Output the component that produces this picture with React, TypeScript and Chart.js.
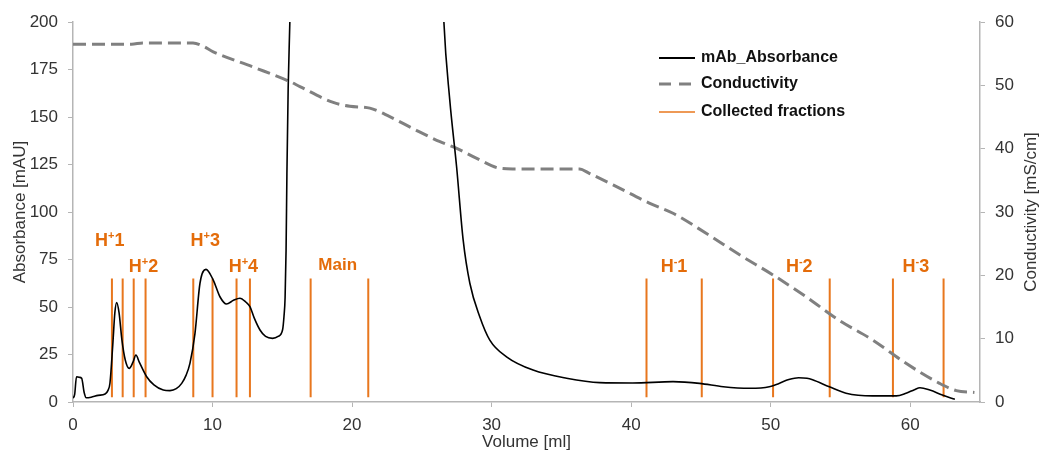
import React, { useEffect, useRef } from 'react';
import { Chart, registerables } from 'chart.js';

Chart.register(...registerables);

// ---- Data ----
const absVolume = [
  0.0, 0.12, 0.25, 0.45, 0.62, 0.8, 0.95, 1.3, 1.8, 2.3, 2.5, 2.65, 2.85, 3.0, 3.13, 3.3, 3.5, 3.75, 4.03,
  4.3, 4.51, 4.75, 5.28, 5.8, 6.47, 6.95, 7.4, 7.79, 8.1, 8.38, 8.74, 9.1, 9.53, 10.05, 10.53, 11.0, 11.5,
  11.96, 12.4, 12.68, 13.0, 13.4, 13.8, 14.3, 14.7, 15.02, 15.12, 15.2, 15.27, 15.33, 15.42, 15.54, 15.7,
  16.5, 21.0, 25.5, 26.3, 26.58, 27.0, 27.49, 27.96, 28.44, 29.15, 29.87, 31.07, 32.97, 35.37, 37.75, 40.1,
  43.0, 44.9, 46.6, 48.5, 49.9, 50.6, 51.3, 52.0, 52.6, 53.0, 54.2, 55.4, 57.3, 59.0, 59.7, 60.3, 60.7,
  61.4, 62.3, 63.2,
];
const absValue = [
  2, 4, 13.3, 13, 12.5, 5, 2.2, 2.5, 3.5, 4.2, 6, 10, 30, 47, 52.3, 47, 33, 22, 17.7,
  21, 24.7, 21, 13.3, 9, 6.3, 6, 7, 9.8, 14, 20.3, 36, 62.5, 69.8, 64.2, 55.4, 51.6, 53.5,
  54.6, 52.5, 50.2, 44, 37.9, 34.5, 33.5, 34.5, 38, 45, 55, 80, 120, 165, 200, 260,
  500, 1000, 500, 260, 200, 159, 123.8, 85.3, 62.5, 44.9, 32.6, 23.8, 16.8, 12.5, 10.2, 10,
  10.7, 9.8, 8, 7.2, 8, 9.8, 11.8, 12.8, 12.5, 11.7, 8, 4.6, 3.2, 3.2, 4.6, 6.5, 7.5,
  6.3, 3.7, 1.4,
];

const condVolume = [
  0, 4.2, 5.0, 8.6, 9.3, 10.05, 12.9, 15.54, 16.26, 18.65, 19.84, 21.27, 22.7, 24.6, 26.3, 27.5, 28.9,
  30.6, 31.5, 36.3, 37.0, 38.95, 41.3, 43.0, 45.4, 47.8, 50.17, 52.55, 54.9, 57.3, 59.7, 62.1, 63.3, 64.6,
];
const condValue = [
  56.5, 56.5, 56.7, 56.7, 56.2, 55.3, 52.9, 50.6, 49.8, 47.3, 46.7, 46.4, 45.05, 42.9, 41.1, 40.05, 38.5,
  36.9, 36.8, 36.8, 36.1, 34.0, 31.4, 29.8, 26.6, 23.2, 20.05, 16.6, 12.9, 9.8, 6.1, 2.95, 1.8, 1.5,
];

const fractionVolumes = [
  2.79, 3.56, 4.35, 5.2, 8.62, 10.0, 11.72, 12.68, 17.03, 21.16, 41.1, 45.06, 50.17, 54.23, 58.76, 62.39,
];
const fractionTop = 65;
const fractionBottom = 2.5;

const fractionLabels = ['H⁺1', 'H⁺2', 'H⁺3', 'H⁺4', 'Main', 'H⁻1', 'H⁻2', 'H⁻3'];
const fractionLabelVolume = [2.63, 5.05, 9.48, 12.21, 18.97, 43.07, 52.05, 60.4];
const fractionLabelLevel = [85.3, 71.6, 85.3, 71.6, 72.9, 71.6, 71.6, 71.6];

const xTickValues = [0, 10, 20, 30, 40, 50, 60];

const seriesNames = ['mAb_Absorbance', 'Conductivity', 'Collected fractions'];

// ---- Styles ----
const FONT = "'Liberation Sans', Arial, sans-serif";
const ORANGE = '#E8771E';
const ORANGE_TEXT = '#E46C0A';
const GREY = '#808080';
const AXIS = '#b5b5b5';
const TICK_TEXT = '#333333';

function drawFractionLabel(ctx: CanvasRenderingContext2D, text: string, cx: number, cy: number) {
  ctx.save();
  ctx.fillStyle = ORANGE_TEXT;
  ctx.textBaseline = 'alphabetic';
  const m = text.match(/^(H)([⁺⁻])(.*)$/);
  if (!m) {
    ctx.font = `bold 17px ${FONT}`;
    ctx.textAlign = 'center';
    ctx.fillText(text, cx, cy + 0.716 * 17 / 2);
    ctx.restore();
    return;
  }
  const big = `bold 18px ${FONT}`;
  const small = `bold 11px ${FONT}`;
  const sup = m[2] === '⁺' ? '+' : '-';
  ctx.font = big;
  const wH = ctx.measureText(m[1]).width;
  const wT = ctx.measureText(m[3]).width;
  ctx.font = small;
  const wS = ctx.measureText(sup).width;
  const total = wH + wS + wT;
  const baseline = cy + 0.716 * 18 / 2;
  let x = cx - total / 2;
  ctx.textAlign = 'left';
  ctx.font = big;
  ctx.fillText(m[1], x, baseline);
  x += wH;
  ctx.font = small;
  ctx.fillText(sup, x, baseline - 7);
  x += wS;
  ctx.font = big;
  ctx.fillText(m[3], x, baseline);
  ctx.restore();
}

const overlayPlugin = {
  id: 'overlay',
  afterDatasetsDraw(chart: any) {
    const ctx: CanvasRenderingContext2D = chart.ctx;
    const xs = chart.scales.x;
    const ys = chart.scales.y;
    // fraction labels
    for (let i = 0; i < fractionLabels.length; i++) {
      drawFractionLabel(ctx, fractionLabels[i], xs.getPixelForValue(fractionLabelVolume[i]), ys.getPixelForValue(fractionLabelLevel[i]));
    }
    // legend
    const ca = chart.chartArea;
    const lx0 = ca.left + 586;
    const lx1 = lx0 + 36;
    const tx = lx0 + 42;
    const rows = [ca.top + 36, ca.top + 62, ca.top + 90];
    ctx.save();
    chart.data.datasets.forEach((ds: any, i: number) => {
      const y = rows[i];
      ctx.beginPath();
      ctx.strokeStyle = ds.borderColor;
      ctx.lineWidth = i === 1 ? 3 : i === 0 ? 2 : 1.5;
      ctx.setLineDash(i === 1 ? [12, 8] : []);
      ctx.moveTo(lx0, y);
      ctx.lineTo(lx1, y);
      ctx.stroke();
      ctx.setLineDash([]);
      ctx.fillStyle = '#111111';
      ctx.font = `bold 16px ${FONT}`;
      ctx.textAlign = 'left';
      ctx.textBaseline = 'middle';
      ctx.fillText(ds.label, tx, y);
    });
    ctx.restore();
    // right axis title (reads bottom to top)
    const yr = chart.scales.y1;
    ctx.save();
    ctx.translate(yr.right - 9, (ca.top + ca.bottom) / 2);
    ctx.rotate(-Math.PI / 2);
    ctx.fillStyle = TICK_TEXT;
    ctx.font = `17px ${FONT}`;
    ctx.textAlign = 'center';
    ctx.textBaseline = 'middle';
    ctx.fillText('Conductivity [mS/cm]', 0, 0);
    ctx.restore();
  },
};

export default function App() {
  const ref = useRef<HTMLCanvasElement | null>(null);

  useEffect(() => {
    if (!ref.current) return;
    const absData = absVolume.map((x, i) => ({ x, y: absValue[i] }));
    const condData = condVolume.map((x, i) => ({ x, y: condValue[i] }));
    const fracData: any[] = [];
    fractionVolumes.forEach((v) => {
      fracData.push({ x: v, y: fractionBottom });
      fracData.push({ x: v, y: fractionTop });
      fracData.push({ x: v, y: null });
    });

    const chart = new Chart(ref.current, {
      type: 'line',
      data: {
        datasets: [
          {
            label: seriesNames[0],
            data: absData,
            yAxisID: 'y',
            borderColor: '#000000',
            borderWidth: 1.6,
            pointRadius: 0,
            cubicInterpolationMode: 'monotone',
            fill: false,
          },
          {
            label: seriesNames[1],
            data: condData,
            yAxisID: 'y1',
            borderColor: GREY,
            borderWidth: 3,
            borderDash: [13, 6],
            pointRadius: 0,
            cubicInterpolationMode: 'monotone',
            fill: false,
          },
          {
            label: seriesNames[2],
            data: fracData,
            yAxisID: 'y',
            borderColor: ORANGE,
            borderWidth: 2,
            pointRadius: 0,
            spanGaps: false,
            tension: 0,
            fill: false,
          },
        ],
      },
      options: {
        responsive: false,
        animation: false,
        devicePixelRatio: 1,
        layout: { padding: { top: 22, left: 0, right: 0, bottom: 0 } },
        plugins: {
          legend: { display: false },
          tooltip: { enabled: false },
        },
        scales: {
          x: {
            type: 'linear',
            min: 0,
            max: 65,
            afterBuildTicks: (axis: any) => {
              axis.ticks = xTickValues.map((v) => ({ value: v }));
            },
            afterFit: (s: any) => {
              s.height = 49;
            },
            grid: { drawOnChartArea: false, drawTicks: true, tickLength: 5, color: AXIS },
            border: { display: true, color: AXIS, width: 1.5 },
            ticks: { color: TICK_TEXT, font: { size: 17, family: FONT }, padding: 8, maxRotation: 0 },
            title: {
              display: true,
              text: 'Volume [ml]',
              color: TICK_TEXT,
              font: { size: 17, family: FONT, lineHeight: 1 },
              padding: { top: 0, bottom: 0 },
            },
          },
          y: {
            type: 'linear',
            position: 'left',
            min: 0,
            max: 200,
            ticks: { stepSize: 25, color: TICK_TEXT, font: { size: 17, family: FONT }, padding: 10 },
            afterFit: (s: any) => {
              s.width = 73;
            },
            grid: { drawOnChartArea: false, drawTicks: true, tickLength: 5, color: AXIS },
            border: { display: true, color: AXIS, width: 1.5 },
            title: {
              display: true,
              text: 'Absorbance [mAU]',
              color: TICK_TEXT,
              font: { size: 17, family: FONT },
              padding: { top: 10, bottom: 0 },
            },
          },
          y1: {
            type: 'linear',
            position: 'right',
            min: 0,
            max: 60,
            ticks: { stepSize: 10, color: TICK_TEXT, font: { size: 17, family: FONT }, padding: 10 },
            afterFit: (s: any) => {
              s.width = 60;
            },
            grid: { drawOnChartArea: false, drawTicks: true, tickLength: 5, color: AXIS },
            border: { display: true, color: AXIS, width: 1.5 },
          },
        },
      },
      plugins: [overlayPlugin],
    } as any);

    return () => {
      chart.destroy();
    };
  }, []);

  return (
    <div style={{ position: 'absolute', left: 0, top: 0, width: 1040, height: 451, background: '#ffffff' }}>
      <canvas ref={ref} width={1040} height={451} style={{ display: 'block' }} />
    </div>
  );
}
